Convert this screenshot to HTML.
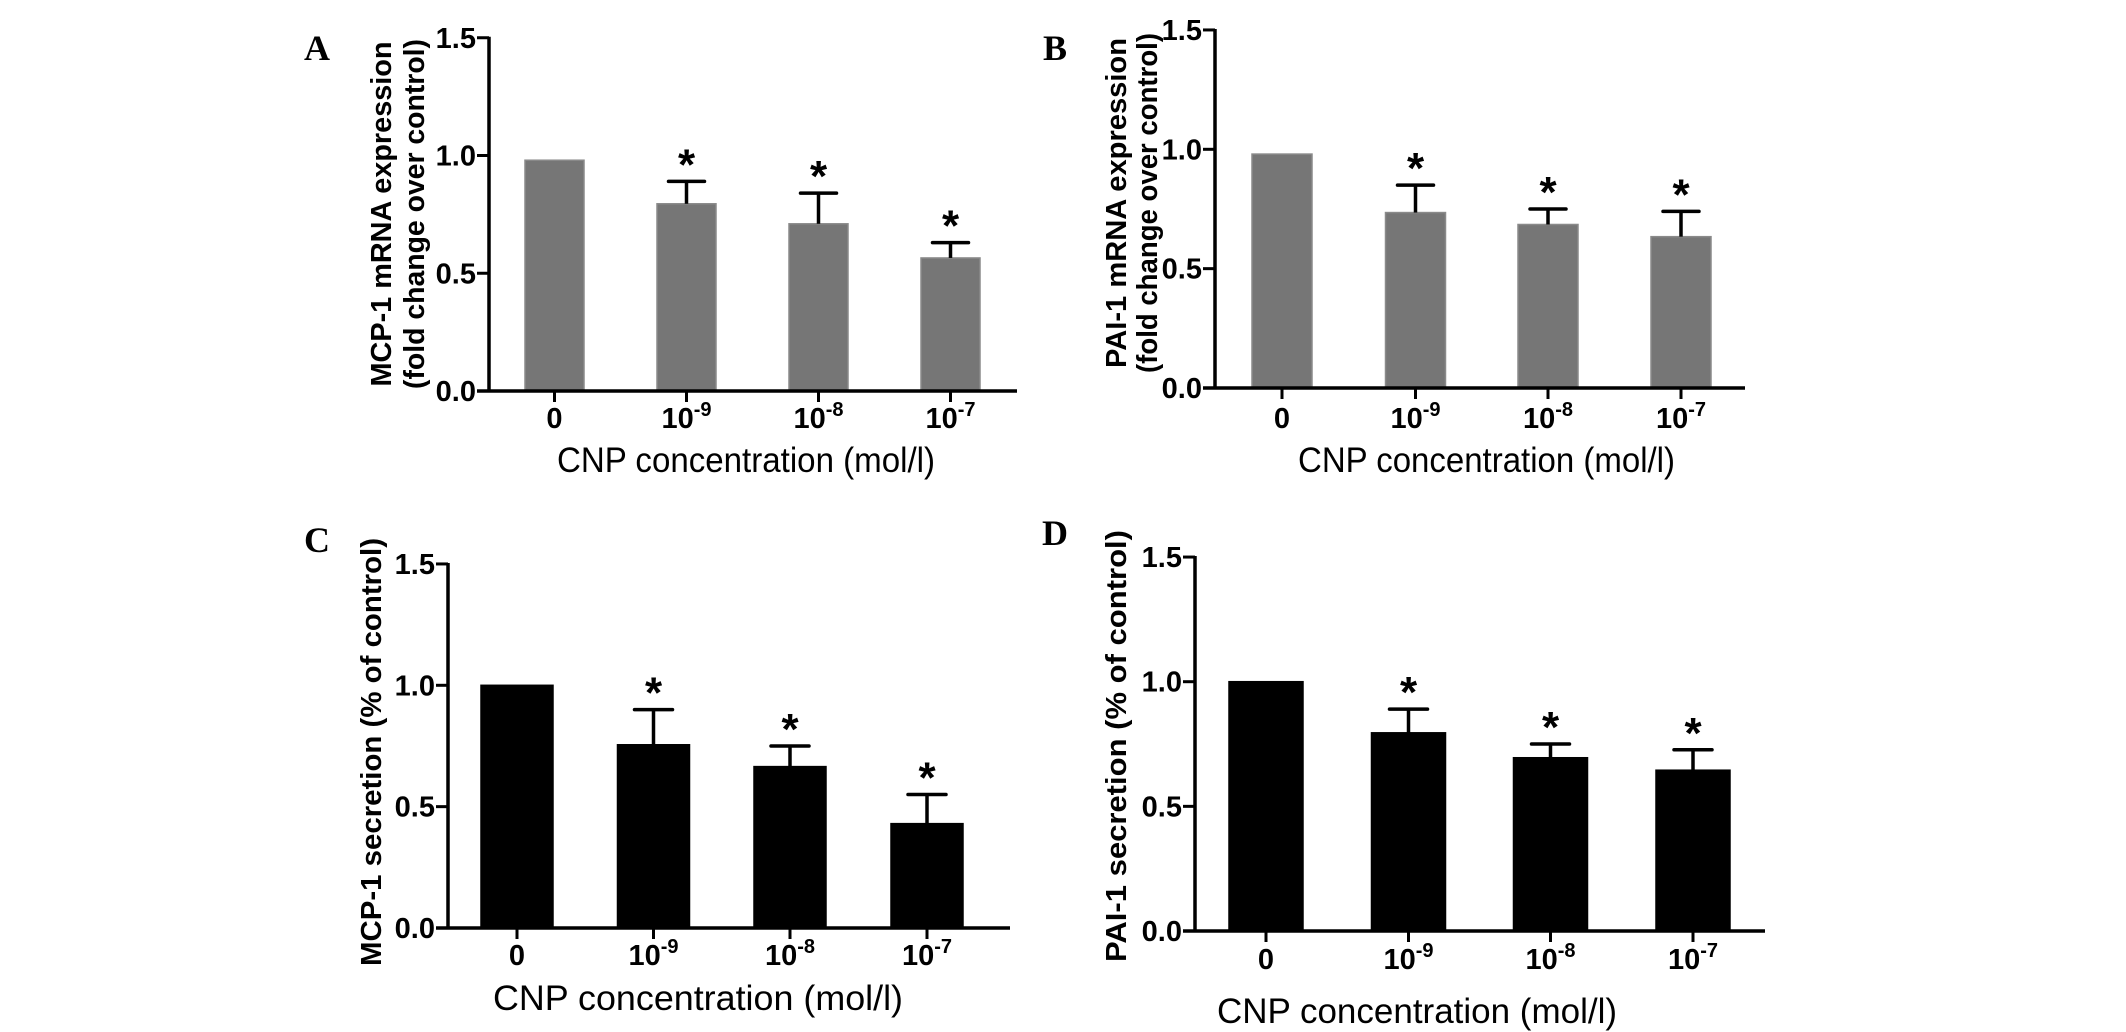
<!DOCTYPE html>
<html><head><meta charset="utf-8"><title>CNP figure</title>
<style>
html,body{margin:0;padding:0;background:#fff;}
svg{display:block;}
text{font-family:"Liberation Sans",Arial,sans-serif;fill:#000;}
.tick{font-weight:bold;font-size:29px;}
.ytitle{font-weight:bold;font-size:29px;}
.xtitle{font-size:35px;}
.plabel{font-family:"Liberation Serif",serif;font-weight:bold;font-size:36px;}
.star{font-weight:bold;font-size:44px;}
</style></head>
<body>
<svg id="fig" width="2126" height="1032" viewBox="0 0 2126 1032" xmlns="http://www.w3.org/2000/svg"></svg>
<script>
// ---- data ----
const categories = ["0", "10|-9", "10|-8", "10|-7"];
const yTicks = [0, 0.5, 1.0, 1.5];
const yTickLabels = ["0.0", "0.5", "1.0", "1.5"];
const mcpMrna = [0.98, 0.795, 0.71, 0.565];
const mcpMrnaErr = [0, 0.095, 0.13, 0.065];
const paiMrna = [0.98, 0.735, 0.685, 0.634];
const paiMrnaErr = [0, 0.115, 0.065, 0.106];
const mcpSec = [1.0, 0.755, 0.665, 0.43];
const mcpSecErr = [0, 0.145, 0.085, 0.12];
const paiSec = [1.0, 0.795, 0.695, 0.645];
const paiSecErr = [0, 0.095, 0.055, 0.082];
const sigFlags = [false, true, true, true];

const NS = "http://www.w3.org/2000/svg";
const svg = document.getElementById("fig");
function mk(tag, attrs, parent) {
  const e = document.createElementNS(NS, tag);
  for (const k in attrs) e.setAttribute(k, attrs[k]);
  (parent || svg).appendChild(e);
  return e;
}

const panels = [
  {id:"a", letter:"A", lx:317, ly:60, values:mcpMrna, errs:mcpMrnaErr, axisX:489, y0:391, ppu:235.5,
   centers:[554.5,686.5,818.5,950.5], bw:59, xEnd:1017, fill:"#767676", stroke:"#8a8a8a",
   tickY:428, xtX:557, xtW:378, xtY:472, ytitle:["MCP-1 mRNA expression","(fold change over control)"],
   ytX:[391,424], ytC:214, ytW:[345,350], capW:36},
  {id:"b", letter:"B", lx:1055, ly:60, values:paiMrna, errs:paiMrnaErr, axisX:1215, y0:388, ppu:238.7,
   centers:[1282,1415.5,1548,1681], bw:60, xEnd:1745, fill:"#767676", stroke:"#8a8a8a",
   tickY:428, xtX:1298, xtW:377, xtY:472, ytitle:["PAI-1 mRNA expression","(fold change over control)"],
   ytX:[1126,1157], ytC:203, ytW:[330,340], capW:36},
  {id:"c", letter:"C", lx:317, ly:552, values:mcpSec, errs:mcpSecErr, axisX:448, y0:928, ppu:242.7,
   centers:[517,653.5,790,927], bw:72, xEnd:1010, fill:"#000", stroke:"#000",
   tickY:965, xtX:493, xtW:410, xtY:1010, ytitle:["MCP-1 secretion (% of control)"],
   ytX:[381], ytC:752, ytW:[428], capW:38},
  {id:"d", letter:"D", lx:1055, ly:545, values:paiSec, errs:paiSecErr, axisX:1195, y0:931, ppu:249.3,
   centers:[1266,1408.5,1550.5,1693], bw:74, xEnd:1765, fill:"#000", stroke:"#000",
   tickY:969, xtX:1217, xtW:400, xtY:1023, ytitle:["PAI-1 secretion (% of control)"],
   ytX:[1126], ytC:746, ytW:[432], capW:38}
];

panels.forEach(p => {
  const g = mk("g", {});
  
  
  const y = v => p.y0 - v * p.ppu;

  const lab = mk("text", {x:p.lx, y:p.ly, class:"plabel", "text-anchor":"middle"}, g);
  lab.textContent = p.letter;
  
  

  p.values.forEach((v, i) => {
    const r = mk("rect", {x:p.centers[i]-p.bw/2, y:y(v), width:p.bw, height:p.y0-y(v), fill:p.fill, stroke:p.stroke, "stroke-width":1.5}, g);
    
    
    if (p.errs[i] > 0) {
      const eg = mk("g", {stroke:"#000", "stroke-width":3.5}, g);
      
      
      mk("line", {x1:p.centers[i], x2:p.centers[i], y1:y(v), y2:y(v+p.errs[i])}, eg);
      mk("line", {x1:p.centers[i]-p.capW/2, x2:p.centers[i]+p.capW/2, y1:y(v+p.errs[i]), y2:y(v+p.errs[i]), "stroke-linecap":"round"}, eg);
    }
    if (sigFlags[i]) {
      const s = mk("text", {x:p.centers[i], y:y(v+p.errs[i])-2, class:"star", "text-anchor":"middle"}, g);
      s.textContent = "*";
      
      
    }
  });

  const ya = mk("line", {x1:p.axisX, x2:p.axisX, y1:y(1.5)-1, y2:p.y0+1.5, stroke:"#000", "stroke-width":3.5}, g);
  
  
  const xa = mk("line", {x1:p.axisX-12, x2:p.xEnd, y1:p.y0, y2:p.y0, stroke:"#000", "stroke-width":3.5}, g);
  
  

  yTicks.forEach((t, i) => {
    mk("line", {x1:p.axisX-12, x2:p.axisX, y1:y(t), y2:y(t), stroke:"#000", "stroke-width":3}, g);
    const tl = mk("text", {x:p.axisX-13, y:y(t)+10, class:"tick", "text-anchor":"end"}, g);
    tl.textContent = yTickLabels[i];
    
    
  });

  categories.forEach((c, i) => {
    mk("line", {x1:p.centers[i], x2:p.centers[i], y1:p.y0, y2:p.y0+11, stroke:"#000", "stroke-width":3}, g);
    const parts = c.split("|");
    const tl = mk("text", {x:p.centers[i], y:p.tickY, class:"tick", "text-anchor":"middle"}, g);
    
    
    if (parts.length === 1) { tl.textContent = parts[0]; }
    else {
      const a = mk("tspan", {}, tl); a.textContent = parts[0];
      const b = mk("tspan", {dy:-12, "font-size":"20px"}, tl); b.textContent = parts[1];
    }
  });

  const xt = mk("text", {x:p.xtX, y:p.xtY, class:"xtitle", textLength:p.xtW, lengthAdjust:"spacingAndGlyphs"}, g);
  xt.textContent = "CNP concentration (mol/l)";
  
  

  p.ytitle.forEach((line, k) => {
    const t = mk("text", {x:0, y:0, class:"ytitle", "text-anchor":"middle", textLength:p.ytW[k], lengthAdjust:"spacingAndGlyphs",
      transform:"translate(" + p.ytX[k] + "," + p.ytC + ") rotate(-90)"}, g);
    t.textContent = line;
    
    
  });
});
</script>
</body></html>
